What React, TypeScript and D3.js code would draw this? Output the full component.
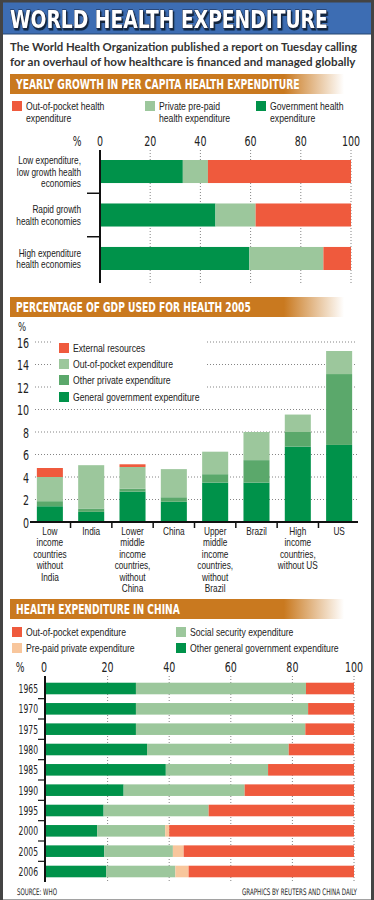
import React, { useLayoutEffect, useRef, useState } from "react";
import * as d3 from "d3";

// chart 1: yearly growth in per capita health expenditure (%)
const groups1 = ["low", "rapid", "high"];
const groupLabels1 = [
  ["Low expenditure,", "low growth health", "economies"],
  ["Rapid growth", "health economies"],
  ["High expenditure", "health economies"],
];
const govt1 = [33, 46, 59.5];
const prepaid1 = [10, 16, 29.5];
const oop1 = [57, 38, 11];
const ticks1 = [0, 20, 40, 60, 80, 100];

// chart 2: % of GDP used for health 2005
const countries2 = ["lowinc", "india", "lowmid", "china", "uppmid", "brazil", "highinc", "us"];
const countryLabels2 = [
  ["Low", "income", "countries", "without", "India"],
  ["India"],
  ["Lower", "middle", "income", "countries,", "without", "China"],
  ["China"],
  ["Upper", "middle", "income", "countries,", "without", "Brazil"],
  ["Brazil"],
  ["High", "income", "countries,", "without US"],
  ["US"],
];
const govt2 = [1.4, 0.9, 2.7, 1.8, 3.5, 3.5, 6.7, 6.85];
const otherPriv2 = [0.45, 0.3, 0.26, 0.4, 0.75, 2.0, 1.3, 6.3];
const oop2 = [2.15, 3.85, 1.93, 2.5, 2.0, 2.5, 1.55, 2.05];
const external2 = [0.8, 0, 0.24, 0, 0, 0, 0, 0];
const ticks2 = [0, 2, 4, 6, 8, 10, 12, 14, 16];

// chart 3: health expenditure in China (%)
const years3 = ["1965", "1970", "1975", "1980", "1985", "1990", "1995", "2000", "2005", "2006"];
const govt3 = [29.2, 29.2, 29.2, 32.8, 38.9, 25.2, 18.7, 16.6, 18.9, 19.5];
const social3 = [55.2, 55.9, 55.0, 46.0, 33.2, 39.3, 34.1, 22.1, 22.3, 22.5];
const prepaid3 = [0, 0, 0, 0, 0, 0, 0, 1.3, 3.5, 4.3];
const oop3 = [15.6, 14.9, 15.8, 21.2, 27.9, 35.5, 47.2, 60.0, 55.3, 53.7];
const ticks3 = [0, 20, 40, 60, 80, 100];

const RED = "#ef5a3d";
const LIGHT = "#9cc79c";
const MID = "#5ba86b";
const DARK = "#00924a";
const PEACH = "#f8c69c";
const ORANGE = "#c9791f";

const COND = "'DejaVu Sans Condensed', 'DejaVu Sans', sans-serif";
const LIB = "'Liberation Sans', Arial, sans-serif";
const SX = 0.73; // horizontal squeeze to mimic the narrow newspaper face

type TProps = {
  x: number;
  y: number;
  size: number;
  width?: number; // fit to this width if given
  sx?: number;
  lh?: number; // line height for multi-line text
  anchor?: "start" | "middle" | "end";
  weight?: string | number;
  fill?: string;
  family?: string;
  filter?: string;
  stroke?: string;
  strokeWidth?: number;
  children: string | number | string[];
};

// text drawn at (x, y), squeezed horizontally; an array gives one line per item
function T({ x, y, size, width, sx = SX, lh = 11.4, anchor = "start", weight, fill = "#222", family = COND, filter, stroke, strokeWidth, children }: TProps) {
  const ref = useRef<SVGTextElement>(null);
  const [scale, setScale] = useState(width ? 1 : sx);
  useLayoutEffect(() => {
    if (!width || !ref.current) return;
    const w = ref.current.getComputedTextLength();
    if (w > 0) setScale(width / w);
  }, [width, children]);
  return (
    <text
      ref={ref}
      transform={`translate(${x},${y}) scale(${scale},1)`}
      textAnchor={anchor}
      fontSize={size}
      fontFamily={family}
      fontWeight={weight}
      fill={fill}
      filter={filter}
      stroke={stroke}
      strokeWidth={strokeWidth}
      paintOrder="stroke"
    >
      {Array.isArray(children)
        ? children.map((l, i) => (
            <tspan key={i} x={0} dy={i === 0 ? 0 : lh}>
              {l}
            </tspan>
          ))
        : children}
    </text>
  );
}

function Header({ y, text, textLen }: { y: number; text: string; textLen: number }) {
  return (
    <g>
      <rect x={10} y={y} width={334} height={20} fill="url(#hdrGrad)" />
      <T x={16} y={y + 15} size={14} width={textLen} weight="bold" fill="#fff">
        {text}
      </T>
    </g>
  );
}

function Legend({ x, y, color, lines }: { x: number; y: number; color: string; lines: string[] }) {
  return (
    <g>
      <rect x={x} y={y} width={10} height={10} fill={color} />
      <T x={x + 14} y={y + 9} size={10.7} sx={0.81} lh={12} family={LIB}>
        {lines}
      </T>
    </g>
  );
}

function Chart1() {
  const x = d3.scaleLinear().domain([0, 100]).range([100, 351]);
  const y = d3.scaleBand().domain(groups1).range([150, 280]).paddingInner(0.47).paddingOuter(0.23);
  const rows = groups1.map((g, i) => ({ g, govt: govt1[i], prepaid: prepaid1[i], oop: oop1[i] }));
  const stack = d3.stack<any>().keys(["govt", "prepaid", "oop"])(rows);
  const colors = [DARK, LIGHT, RED];
  return (
    <g>
      <T x={77} y={146} size={14} anchor="middle">%</T>
      {ticks1.map((t) => (
        <g key={t}>
          <T x={x(t)} y={146} size={14.5} anchor="middle">{t}</T>
          {t > 0 && (
            <line x1={x(t)} x2={x(t)} y1={150} y2={283} stroke="#666" strokeWidth={0.8} strokeDasharray="1,2" />
          )}
        </g>
      ))}
      {stack.map((s, si) =>
        s.map((d, i) => (
          <rect
            key={si + "-" + i}
            x={x(d[0])}
            y={y(groups1[i])}
            width={x(d[1]) - x(d[0])}
            height={y.bandwidth()}
            fill={colors[si]}
          />
        ))
      )}
      <line x1={100} x2={100} y1={150} y2={283} stroke="#111" strokeWidth={2} />
      {groups1.slice(1).map((g) => {
        const yy = (y(g) as number) - (y.step() - y.bandwidth()) / 2;
        return <line key={g} x1={87} x2={100} y1={yy} y2={yy} stroke="#111" strokeWidth={1.5} />;
      })}
      {groups1.map((g, i) => {
        const lines = groupLabels1[i];
        const cy = (y(g) as number) + y.bandwidth() / 2;
        return (
          <T key={g} x={81} y={cy + 4 - ((lines.length - 1) / 2) * 11.4} size={10.2} sx={0.81} family={LIB} anchor="end">
            {lines}
          </T>
        );
      })}
    </g>
  );
}

function Chart2() {
  const y = d3.scaleLinear().domain([0, 16]).range([522, 342]);
  const x = d3.scaleBand().domain(countries2).range([29, 360]).paddingInner(0.37).paddingOuter(0.19);
  const rows = countries2.map((c, i) => ({
    c,
    govt: govt2[i],
    other: otherPriv2[i],
    oop: oop2[i],
    ext: external2[i],
  }));
  const stack = d3.stack<any>().keys(["govt", "other", "oop", "ext"])(rows);
  const colors = [DARK, MID, LIGHT, RED];
  return (
    <g>
      <T x={22} y={331} size={13} anchor="middle">%</T>
      {ticks2.map((t) => (
        <g key={t}>
          <T x={29} y={y(t) + 5.5} size={14.5} anchor="end">{t}</T>
          {t > 0 &&
            (t >= 12 ? (
              <g>
                <line x1={35} x2={52} y1={y(t)} y2={y(t)} stroke="#666" strokeWidth={0.8} strokeDasharray="1,2" />
                <line x1={207} x2={357} y1={y(t)} y2={y(t)} stroke="#666" strokeWidth={0.8} strokeDasharray="1,2" />
              </g>
            ) : (
              <line x1={35} x2={357} y1={y(t)} y2={y(t)} stroke="#666" strokeWidth={0.8} strokeDasharray="1,2" />
            ))}
        </g>
      ))}
      <Legend x={59} y={343} color={RED} lines={["External resources"]} />
      <Legend x={59} y={359} color={LIGHT} lines={["Out-of-pocket expenditure"]} />
      <Legend x={59} y={375} color={MID} lines={["Other private expenditure"]} />
      <Legend x={59} y={392} color={DARK} lines={["General government expenditure"]} />
      {stack.map((s, si) =>
        s.map((d, i) =>
          d[1] - d[0] > 0 ? (
            <rect
              key={si + "-" + i}
              x={x(countries2[i])}
              y={y(d[1])}
              width={x.bandwidth()}
              height={y(d[0]) - y(d[1])}
              fill={colors[si]}
            />
          ) : null
        )
      )}
      <line x1={30} x2={358} y1={y(0)} y2={y(0)} stroke="#111" strokeWidth={2} />
      {countries2.slice(1).map((c) => {
        const xx = (x(c) as number) - (x.step() - x.bandwidth()) / 2;
        return <line key={c} x1={xx} x2={xx} y1={y(0)} y2={y(0) + 6} stroke="#111" strokeWidth={1.5} />;
      })}
      {countries2.map((c, i) => (
        <T key={c} x={(x(c) as number) + x.bandwidth() / 2} y={535} size={10.2} sx={0.81} family={LIB} anchor="middle">
          {countryLabels2[i]}
        </T>
      ))}
    </g>
  );
}

function Chart3() {
  const x = d3.scaleLinear().domain([0, 100]).range([46, 354]);
  const y = d3.scaleBand().domain(years3).range([676, 884]).paddingInner(0.43).paddingOuter(0.33);
  const rows = years3.map((yr, i) => ({
    yr,
    govt: govt3[i],
    social: social3[i],
    prepaid: prepaid3[i],
    oop: oop3[i],
  }));
  const stack = d3.stack<any>().keys(["govt", "social", "prepaid", "oop"])(rows);
  const colors = [DARK, LIGHT, PEACH, RED];
  return (
    <g>
      <Legend x={12} y={627} color={RED} lines={["Out-of-pocket expenditure"]} />
      <Legend x={12} y={643} color={PEACH} lines={["Pre-paid private expenditure"]} />
      <Legend x={176} y={627} color={LIGHT} lines={["Social security expenditure"]} />
      <Legend x={176} y={643} color={DARK} lines={["Other general government expenditure"]} />
      <T x={20} y={672} size={14} anchor="middle">%</T>
      {ticks3.map((t) => (
        <g key={t}>
          <T x={x(t) - (t === 0 ? 2 : 0)} y={672} size={14.5} anchor="middle">{t}</T>
          {t > 0 && (
            <line x1={x(t)} x2={x(t)} y1={676} y2={882} stroke="#666" strokeWidth={0.8} strokeDasharray="1,2" />
          )}
        </g>
      ))}
      {stack.map((s, si) =>
        s.map((d, i) =>
          d[1] - d[0] > 0 ? (
            <rect
              key={si + "-" + i}
              x={x(d[0])}
              y={y(years3[i])}
              width={x(d[1]) - x(d[0])}
              height={y.bandwidth()}
              fill={colors[si]}
            />
          ) : null
        )
      )}
      <line x1={45} x2={45} y1={676} y2={882} stroke="#111" strokeWidth={2} />
      {years3.slice(1).map((yr) => {
        const yy = (y(yr) as number) - (y.step() - y.bandwidth()) / 2;
        return <line key={yr} x1={38} x2={45} y1={yy} y2={yy} stroke="#111" strokeWidth={1.2} />;
      })}
      {years3.map((yr) => (
        <T key={yr} x={38} y={(y(yr) as number) + y.bandwidth() / 2 + 4.5} size={12.5} sx={0.68} anchor="end">
          {yr}
        </T>
      ))}
    </g>
  );
}

export default function App() {
  return (
    <div style={{ position: "absolute", left: 0, top: 0 }}>
      <svg width={374} height={900} style={{ display: "block", background: "#fff" }}>
        <defs>
          <linearGradient id="hdrGrad" x1="0" x2="1" y1="0" y2="0">
            <stop offset="0" stopColor={ORANGE} />
            <stop offset="0.82" stopColor={ORANGE} />
            <stop offset="1" stopColor={ORANGE} stopOpacity={0} />
          </linearGradient>
          <filter id="titleShadow" x="-5%" y="-30%" width="110%" height="170%">
            <feDropShadow dx={1.5} dy={2} stdDeviation={0.6} floodColor="#101a30" floodOpacity={0.9} />
          </filter>
        </defs>
        {/* title bar */}
        <rect x={0} y={0} width={374} height={34} fill="#3d6db3" />
        <rect x={0} y={0} width={374} height={2} fill="#222" />
        <line x1={0} x2={374} y1={34} y2={34} stroke="#27466f" strokeWidth={1} />
        <T x={10} y={28} size={25} width={318} weight="bold" fill="#fff" stroke="#1a2540" strokeWidth={1} filter="url(#titleShadow)">
          WORLD HEALTH EXPENDITURE
        </T>
        {/* subtitle */}
        <T x={10} y={51} size={12} width={347} weight="bold" fill="#333" family="Lato, 'Liberation Sans', sans-serif">
          The World Health Organization published a report on Tuesday calling
        </T>
        <T x={10} y={66} size={12} width={346} weight="bold" fill="#333" family="Lato, 'Liberation Sans', sans-serif">
          for an overhaul of how healthcare is financed and managed globally
        </T>

        <Header y={74} text="YEARLY GROWTH IN PER CAPITA HEALTH EXPENDITURE" textLen={284} />
        <Legend x={12} y={101} color={RED} lines={["Out-of-pocket health", "expenditure"]} />
        <Legend x={145} y={101} color={LIGHT} lines={["Private pre-paid", "health expenditure"]} />
        <Legend x={256} y={101} color={DARK} lines={["Government health", "expenditure"]} />
        <Chart1 />

        <Header y={297} text="PERCENTAGE OF GDP USED FOR HEALTH 2005" textLen={235} />
        <Chart2 />

        <Header y={599} text="HEALTH EXPENDITURE IN CHINA" textLen={164} />
        <Chart3 />

        <T x={17} y={895} size={9} width={40}>SOURCE: WHO</T>
        <T x={357} y={895} size={9} width={115} anchor="end">
          GRAPHICS BY REUTERS AND CHINA DAILY
        </T>

        {/* frame */}
        <rect x={1.5} y={1} width={371} height={900} fill="none" stroke="#444" strokeWidth={3} />
      </svg>
    </div>
  );
}
